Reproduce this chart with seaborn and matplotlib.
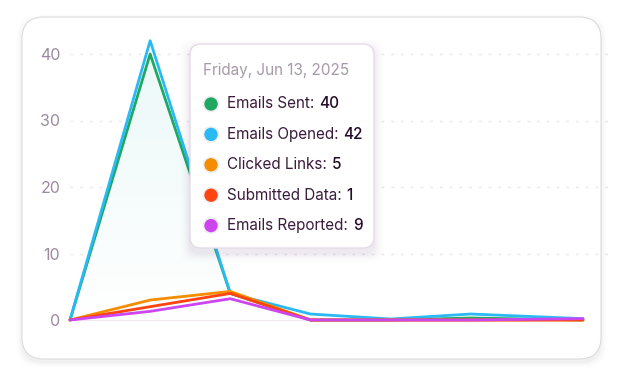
import numpy as np
import pandas as pd
import matplotlib.pyplot as plt
import seaborn as sns
from matplotlib.patches import FancyBboxPatch, Circle
from matplotlib.colors import LinearSegmentedColormap

# data
x_pos = [0, 1, 2, 3, 4, 5, 6.4]
emails_sent = [0, 40, 4, 0, 0, 0.3, 0]
emails_opened = [0, 42, 4, 0.9, 0.15, 0.9, 0.2]
clicked_links = [0, 3, 4.3, 0, 0, 0, 0]
submitted_data = [0, 2, 4, 0, 0, 0, 0]
emails_reported = [0, 1.3, 3.2, 0, 0, 0, 0.2]

series_names = ['Emails Sent', 'Emails Opened', 'Clicked Links', 'Submitted Data', 'Emails Reported']
series_colors = ['#1fa862', '#2bb9f6', '#f58d00', '#ff4412', '#cc45ee']
tip_date = 'Friday, Jun 13, 2025'
tip_values = [40, 42, 5, 1, 9]

df = pd.DataFrame({
    'x': x_pos * 5,
    'value': emails_sent + emails_opened + clicked_links + submitted_data + emails_reported,
    'series': sum([[n] * len(x_pos) for n in series_names], []),
})

sns.set_style('white')
plt.rcParams['font.family'] = ['Inter', 'DejaVu Sans']

W, H = 622, 385
fig = plt.figure(figsize=(W / 100, H / 100), dpi=100)
fig.patch.set_facecolor('white')

# background axes in pixel coords for the card
bg = fig.add_axes([0, 0, 1, 1])
bg.set_xlim(0, W)
bg.set_ylim(H, 0)
bg.axis('off')
for i, a in enumerate([0.02, 0.016, 0.012, 0.008, 0.005]):
    s = 2 + i * 2.5
    bg.add_patch(FancyBboxPatch((22 - s / 2, 17 - s / 2 + 3), 579 + s, 342 + s,
                                boxstyle='round,pad=0,rounding_size=22',
                                fc='black', ec='none', alpha=a))
bg.add_patch(FancyBboxPatch((22, 17), 579, 342, boxstyle='round,pad=0,rounding_size=22',
                            fc='white', ec='#dcdcdc', lw=0.8))

# chart axes: x 0 -> 70px, 6.4 -> 583px; y 0 -> 320px, 10 units = 66.5px
ymax = 44
ax = fig.add_axes([70 / W, (H - 320) / H, (583 - 70) / W, ymax * 6.65 / H])
ax.set_xlim(0, 6.4)
ax.set_ylim(0, ymax)
ax.patch.set_alpha(0)

# gradient fill under the sent line
grad = np.linspace(1, 0, 256).reshape(-1, 1)
cm = LinearSegmentedColormap.from_list('f', ['#ffffff', '#ebf8f8'])
img = ax.imshow(grad, extent=[0, 6.4, 0, 42], aspect='auto', cmap=cm, origin='upper', zorder=1)
poly = ax.fill_between(x_pos, emails_sent, 0, color='none')
img.set_clip_path(poly.get_paths()[0], transform=ax.transData)

for v in [10, 20, 30, 40]:
    ax.axhline(v, color='#e9e6ec', lw=1, ls=(0, (2, 5)), zorder=0, xmax=1.05, clip_on=False)
ax.axhline(0, color='#ece2ea', lw=1.2, zorder=0, clip_on=False)

sns.lineplot(data=df, x='x', y='value', hue='series', palette=series_colors,
             hue_order=series_names, lw=2, legend=False, ax=ax, zorder=3)
for ln in ax.lines[-5:]:
    ln.set_clip_on(False)
    ln.set_solid_joinstyle('round')
    ln.set_solid_capstyle('round')

ax.set_yticks([0, 10, 20, 30, 40])
ax.set_yticklabels(['0', '10', '20', '30', '40'], color='#9c8a9e', fontsize=11.5)
ax.tick_params(axis='y', length=0, pad=7)
ax.set_xticks([])
ax.set_xlabel('')
ax.set_ylabel('')
sns.despine(ax=ax, left=True, bottom=True)

# tooltip overlay
tip = fig.add_axes([0, 0, 1, 1], zorder=10)
tip.set_xlim(0, W)
tip.set_ylim(H, 0)
tip.axis('off')
tip.patch.set_alpha(0)
for i, a in enumerate([0.03, 0.024, 0.018, 0.012, 0.008, 0.005]):
    s = 3 + i * 3.5
    tip.add_patch(FancyBboxPatch((190 - s / 2, 44 - s / 2 + 5), 184 + s, 204 + s,
                                 boxstyle='round,pad=0,rounding_size=12',
                                 fc='#6a3a7a', ec='none', alpha=a))
tip.add_patch(FancyBboxPatch((190, 44), 184, 204, boxstyle='round,pad=0,rounding_size=11',
                             fc='white', ec='#e6dce8', lw=1))
tip.text(203, 71, tip_date, color='#a898ab', fontsize=11, va='center', ha='left')
for i, (name, col, val) in enumerate(zip(series_names, series_colors, tip_values)):
    y = 104 + i * 30.4
    tip.add_patch(Circle((211, y), 7.5, fc=col, ec='#f0eef0', lw=1.2))
    t = tip.text(227, y, f'{name}:', color='#3b1c3c', fontsize=11, va='center', ha='left')
    fig.canvas.draw()
    bb = t.get_window_extent()
    x_end = tip.transData.inverted().transform((bb.x1, bb.y0))[0]
    tip.text(x_end + 5, y, str(val), color='#250a26', fontsize=11, va='center', ha='left',
             fontweight='medium')

fig.savefig('out.png', dpi=100)
